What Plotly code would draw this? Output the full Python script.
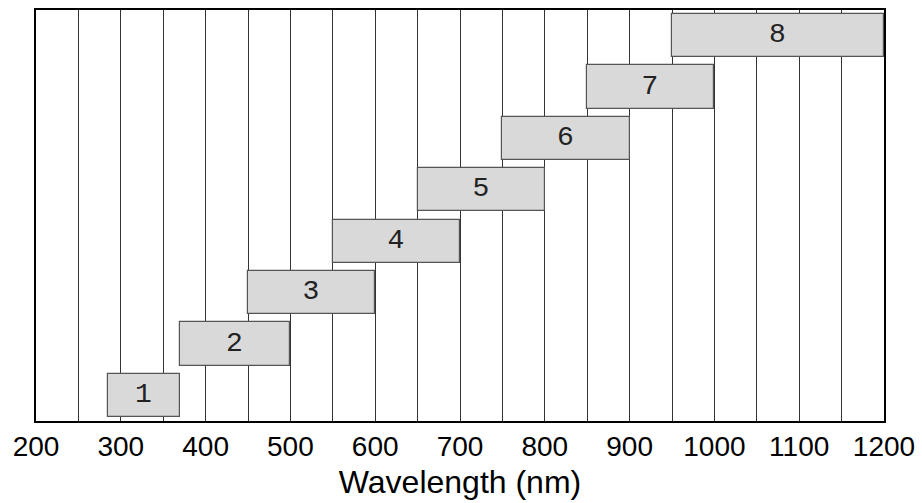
import plotly.graph_objects as go

# Wavelength bands covered by each channel (nm)
band_labels = ["1", "2", "3", "4", "5", "6", "7", "8"]
band_start = [285, 370, 450, 550, 650, 750, 850, 950]
band_end = [370, 500, 600, 700, 800, 900, 1000, 1200]

# x-axis tick positions / labels (grid every 50 nm, labels every 100 nm)
grid_vals = list(range(200, 1201, 50))
grid_text = [str(v) if v % 100 == 0 else "" for v in grid_vals]

rows = [i + 0.5 for i in range(len(band_labels))]
widths = [e - s for s, e in zip(band_start, band_end)]

fig = go.Figure()
fig.add_trace(go.Bar(
    orientation="h",
    y=rows,
    x=widths,
    base=band_start,
    width=0.84,
    text=band_labels,
    textposition="inside",
    insidetextanchor="middle",
    textangle=0,
    constraintext="none",
    textfont=dict(family="Liberation Mono", size=28, color="#222222"),
    marker=dict(color="#d9d9d9", line=dict(color="#555555", width=1.2)),
    hoverinfo="skip",
    showlegend=False,
))

fig.update_layout(
    width=922,
    height=503,
    margin=dict(l=36, r=38, t=10, b=82, autoexpand=False),
    paper_bgcolor="white",
    plot_bgcolor="white",
    bargap=0,
    xaxis=dict(
        range=[200, 1200],
        tickvals=grid_vals,
        ticktext=grid_text,
        ticks="",
        showgrid=True,
        gridcolor="#333333",
        gridwidth=1,
        showline=True,
        linecolor="black",
        linewidth=1.5,
        mirror=True,
        zeroline=False,
        tickfont=dict(family="Liberation Sans", size=28, color="black"),
        title=dict(text="Wavelength (nm)",
                   font=dict(family="Liberation Sans", size=32, color="black"),
                   standoff=9),
        automargin=False,
    ),
    yaxis=dict(
        range=[0, 8],
        showticklabels=False,
        ticks="",
        showgrid=False,
        zeroline=False,
        showline=True,
        linecolor="black",
        linewidth=1.5,
        mirror=True,
        automargin=False,
    ),
)

fig.write_html("out.html")
